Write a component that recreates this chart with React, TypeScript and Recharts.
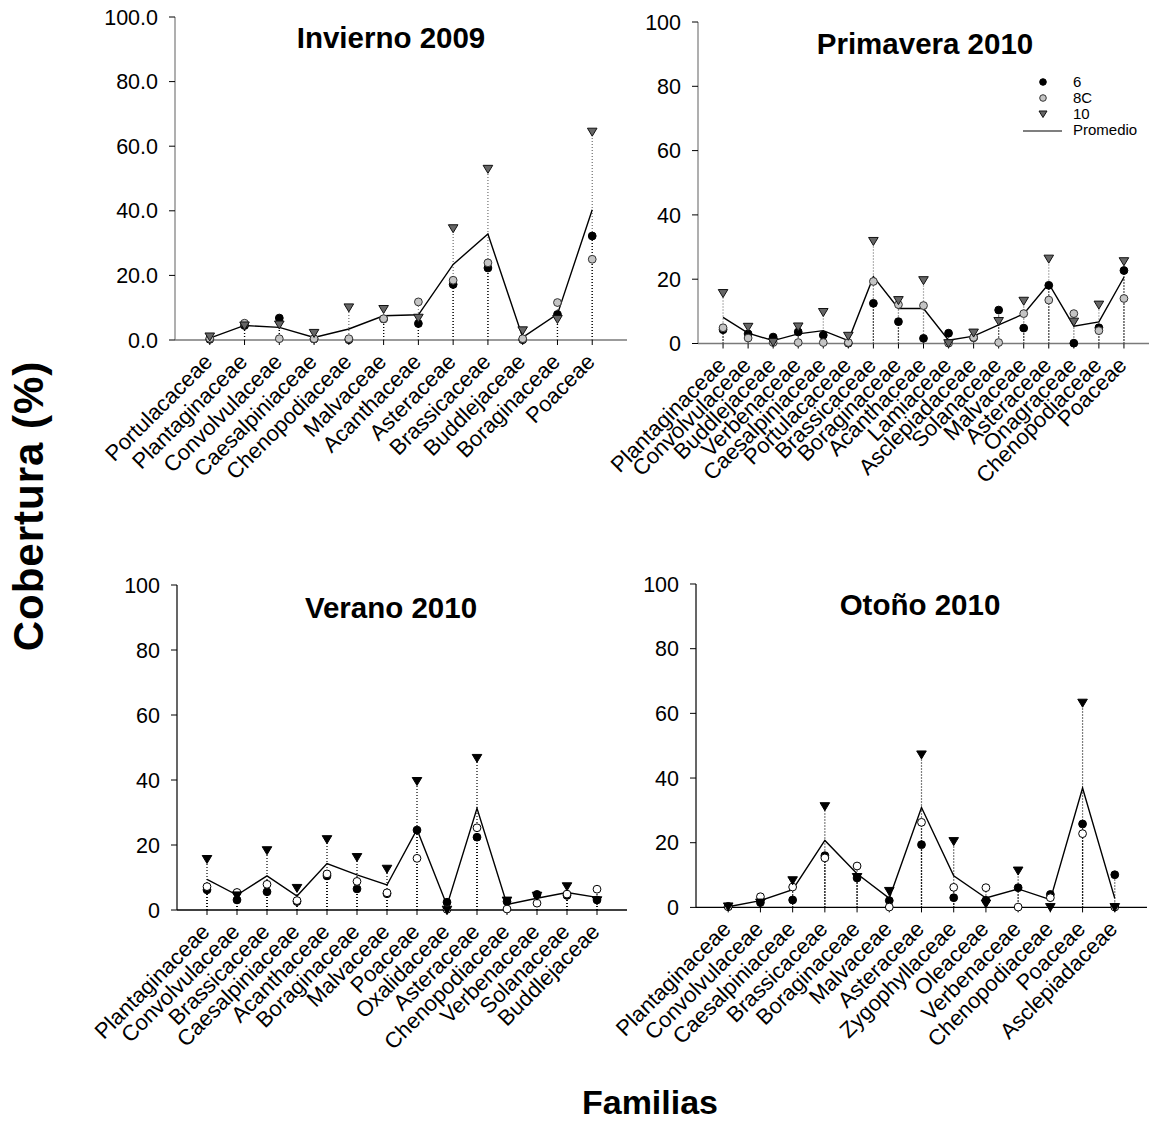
import React from 'react';
import { ComposedChart, Line, Scatter, XAxis, YAxis, ReferenceLine, Legend } from 'recharts';

const FONT = '"Liberation Sans", Arial, Helvetica, sans-serif';

// ---- Invierno 2009 ----
const inviernoFamilias = ['Portulacaceae', 'Plantaginaceae', 'Convolvulaceae', 'Caesalpiniaceae', 'Chenopodiaceae', 'Malvaceae', 'Acanthaceae', 'Asteraceae', 'Brassicaceae', 'Buddlejaceae', 'Boraginaceae', 'Poaceae'];
const invierno6 = [0.2, 4.5, 6.8, 0.3, 0.1, 6.5, 5.1, 17.2, 22.3, 0.1, 7.9, 32.2];
const invierno8C = [0.5, 5.2, 0.4, 0.4, 0.4, 6.6, 11.8, 18.5, 23.9, 0.4, 11.6, 25.0];
const invierno10 = [1.0, 4.4, 4.7, 2.1, 10.0, 9.5, 6.8, 34.5, 52.9, 2.9, 6.4, 64.4];
const inviernoPromedio = [0.6, 4.5, 3.9, 0.8, 3.4, 7.5, 7.8, 23.4, 32.8, 0.8, 8.0, 40.3];

// ---- Primavera 2010 ----
const primaveraFamilias = ['Plantaginaceae', 'Convolvulaceae', 'Buddlejaceae', 'Verbenaceae', 'Caesalpiniaceae', 'Portulacaceae', 'Brassicaceae', 'Boraginaceae', 'Acanthaceae', 'Lamiaceae', 'Asclepiadaceae', 'Solanaceae', 'Malvaceae', 'Asteraceae', 'Onagraceae', 'Chenopodiaceae', 'Poaceae'];
const primavera6 = [4.3, 3.0, 2.0, 3.6, 2.6, 0.1, 12.5, 6.8, 1.6, 3.2, 1.8, 10.4, 4.8, 18.1, 0.1, 4.9, 22.7];
const primavera8C = [4.9, 1.7, 0.3, 0.3, 0.3, 0.3, 19.3, 12.1, 11.8, 0.1, 1.9, 0.3, 9.3, 13.5, 9.3, 4.0, 14.0];
const primavera10 = [15.6, 5.1, 0.4, 5.2, 9.7, 2.3, 31.8, 13.4, 19.6, 0.0, 3.3, 6.9, 13.2, 26.3, 6.7, 12.0, 25.5];
const primaveraPromedio = [8.1, 3.2, 0.9, 3.0, 4.0, 0.9, 20.8, 10.9, 10.9, 1.0, 2.3, 5.8, 9.2, 18.6, 5.4, 6.7, 20.6];

// ---- Verano 2010 ----
const veranoFamilias = ['Plantaginaceae', 'Convolvulaceae', 'Brassicaceae', 'Caesalpiniaceae', 'Acanthaceae', 'Boraginaceae', 'Malvaceae', 'Poaceae', 'Oxalidaceae', 'Asteraceae', 'Chenopodiaceae', 'Verbenaceae', 'Solanaceae', 'Buddlejaceae'];
const verano6 = [6.2, 3.1, 5.6, 2.6, 10.5, 6.5, 5.0, 24.6, 2.4, 22.4, 2.6, 4.8, 4.5, 3.1];
const verano8C = [7.2, 5.4, 7.9, 2.9, 11.1, 8.8, 5.3, 15.9, 0.2, 25.3, 0.3, 2.1, 4.9, 6.4];
const verano10 = [15.6, 4.4, 18.3, 6.7, 21.7, 16.2, 12.6, 39.6, 0.0, 46.7, 2.8, 4.3, 7.2, 2.9];
const veranoPromedio = [9.4, 4.6, 10.5, 4.3, 14.3, 10.8, 7.7, 24.8, 1.4, 31.3, 1.7, 3.6, 5.4, 3.9];

// ---- Otoño 2010 ----
const otonoFamilias = ['Plantaginaceae', 'Convolvulaceae', 'Caesalpiniaceae', 'Brassicaceae', 'Boraginaceae', 'Malvaceae', 'Asteraceae', 'Zygophyllaceae', 'Oleaceae', 'Verbenaceae', 'Chenopodiaceae', 'Poaceae', 'Asclepiadaceae'];
const otono6 = [0.3, 1.5, 2.3, 16.0, 9.1, 2.1, 19.4, 3.0, 2.2, 6.1, 4.0, 25.8, 10.1];
const otono8C = [0.2, 3.3, 6.3, 15.3, 12.8, 0.1, 26.3, 6.2, 6.1, 0.1, 3.0, 22.8, 0.1];
const otono10 = [0.2, 1.4, 8.3, 31.2, 9.3, 5.0, 47.2, 20.4, 1.1, 11.3, 0.0, 63.2, 0.0];
const otonoPromedio = [0.2, 2.1, 5.5, 20.7, 10.4, 2.8, 30.9, 9.8, 2.9, 5.7, 2.4, 36.9, 2.8];

const yTicks = [0, 20, 40, 60, 80, 100];
const seriesLabels = ['6', '8C', '10', 'Promedio'];

type Style = { fill: string; stroke: string };
type Palette = {
  s6: Style; s8: Style; s10: Style;
  drop6: string; drop8: string; drop10: string;
  axis: string; axisWidth: number;
};

const grayPalette: Palette = {
  s6: { fill: '#000000', stroke: '#000000' },
  s8: { fill: '#c4c4c4', stroke: '#333333' },
  s10: { fill: '#666666', stroke: '#111111' },
  drop6: '#000000', drop8: '#8a8a8a', drop10: '#6e6e6e',
  axis: '#7a7a7a', axisWidth: 1.6,
};

const monoPalette: Palette = {
  s6: { fill: '#000000', stroke: '#000000' },
  s8: { fill: '#ffffff', stroke: '#000000' },
  s10: { fill: '#000000', stroke: '#000000' },
  drop6: '#000000', drop8: '#000000', drop10: '#000000',
  axis: '#000000', axisWidth: 1.3,
};

const circleShape = (st: Style, r = 3.9) => (p: any) =>
  p.cx == null || p.cy == null ? <g /> : (
    <circle cx={p.cx} cy={p.cy} r={r} fill={st.fill} stroke={st.stroke} strokeWidth={1} />
  );

const triangleShape = (st: Style) => (p: any) => {
  if (p.cx == null || p.cy == null) return <g />;
  const { cx, cy } = p;
  const pts = `${cx - 4.8},${cy - 3.8} ${cx + 4.8},${cy - 3.8} ${cx},${cy + 4.2}`;
  return <polygon points={pts} fill={st.fill} stroke={st.stroke} strokeWidth={1} strokeLinejoin="round" />;
};

const makeXTick = (cats: string[]) => (props: any) => {
  const { x, y, payload } = props;
  const label = cats[payload.value - 1];
  if (!label) return <g />;
  const ax = x + 4;
  const ay = y + 16;
  return (
    <text x={ax} y={ay} transform={`rotate(-45 ${ax} ${ay})`} textAnchor="end"
      fontFamily={FONT} fontSize={22} fill="#000">{label}</text>
  );
};

const LegendBox = ({ pal }: { pal: Palette }) => {
  const rows = [12, 28, 44, 60];
  const mx = 23;
  const tx = 53;
  return (
    <svg width={140} height={72} style={{ overflow: 'visible' }}>
      <circle cx={mx} cy={rows[0]} r={3.3} fill={pal.s6.fill} stroke={pal.s6.stroke} />
      <circle cx={mx} cy={rows[1]} r={3.3} fill={pal.s8.fill} stroke={pal.s8.stroke} />
      <polygon points={`${mx - 4},${rows[2] - 3} ${mx + 4},${rows[2] - 3} ${mx},${rows[2] + 3.5}`} fill={pal.s10.fill} stroke={pal.s10.stroke} />
      <line x1={3} x2={42} y1={rows[3] + 1} y2={rows[3] + 1} stroke="#000" strokeWidth={1.2} />
      {seriesLabels.map((s, i) => (
        <text key={s} x={tx} y={rows[i]} dy="0.35em" fontFamily={FONT} fontSize={15} fill="#000">{s}</text>
      ))}
    </svg>
  );
};

type PanelProps = {
  cats: string[]; v6: number[]; v8: number[]; v10: number[]; prom: number[];
  plotLeft: number; plotTop: number; plotW: number; plotH: number;
  decimals: number; pal: Palette; legend?: boolean;
};

const Panel = ({ cats, v6, v8, v10, prom, plotLeft, plotTop, plotW, plotH, decimals, pal, legend }: PanelProps) => {
  const rows = cats.map((name, i) => ({ x: i + 1, name, s6: v6[i], s8: v8[i], s10: v10[i], prom: prom[i] }));
  const n = cats.length;
  const ML = 40, YW = 60, MT = 20, MR = 20, XH = 150;
  const width = ML + YW + plotW + MR;
  const height = MT + plotH + XH;
  const chartLeft = plotLeft - ML - YW;
  const chartTop = plotTop - MT;
  const drop = (key: 's6' | 's8' | 's10', color: string) =>
    rows.map((r) => (
      <ReferenceLine key={`${key}-${r.x}`} segment={[{ x: r.x, y: 0 }, { x: r.x, y: r[key] }]}
        stroke={color} strokeWidth={1.2} strokeDasharray="1 2" ifOverflow="visible" />
    ));
  return (
    <div style={{ position: 'absolute', left: chartLeft, top: chartTop }}>
      <ComposedChart width={width} height={height} data={rows}
        margin={{ top: MT, right: MR, bottom: 0, left: ML }} style={{ overflow: 'visible' }}>
        <XAxis dataKey="x" type="number" domain={[0, n + 1]} ticks={rows.map((r) => r.x)}
          interval={0} height={XH} tick={makeXTick(cats)} tickSize={5} tickMargin={2}
          axisLine={{ stroke: pal.axis, strokeWidth: pal.axisWidth }}
          tickLine={{ stroke: '#000', strokeWidth: 1 }} allowDecimals={false} />
        <YAxis type="number" domain={[0, 100]} ticks={yTicks} width={YW} interval={0}
          tickFormatter={(v: number) => v.toFixed(decimals)} tickSize={6} tickMargin={11}
          tick={{ fontSize: 21.5, fill: '#000', fontFamily: FONT }}
          axisLine={{ stroke: pal.axis, strokeWidth: 1.2 }} tickLine={{ stroke: '#000', strokeWidth: 1 }} />
        {drop('s10', pal.drop10)}
        {drop('s8', pal.drop8)}
        {drop('s6', pal.drop6)}
        <Line dataKey="prom" type="linear" stroke="#000" strokeWidth={1.4} dot={false} activeDot={false} isAnimationActive={false} />
        <Scatter dataKey="s6" name="6" shape={circleShape(pal.s6)} isAnimationActive={false} />
        <Scatter dataKey="s8" name="8C" shape={circleShape(pal.s8)} isAnimationActive={false} />
        <Scatter dataKey="s10" name="10" shape={triangleShape(pal.s10)} isAnimationActive={false} />
        {legend && (
          <Legend layout="vertical" align="center" verticalAlign="middle"
            content={() => <LegendBox pal={pal} />}
            wrapperStyle={{ left: 1020 - chartLeft, top: 70 - chartTop, width: 140, height: 72 }} />
        )}
      </ComposedChart>
    </div>
  );
};

export default function App() {
  return (
    <div style={{ position: 'absolute', left: 0, top: 0, width: 1159, height: 1124, background: '#fff', overflow: 'hidden' }}>
      <Panel cats={inviernoFamilias} v6={invierno6} v8={invierno8C} v10={invierno10} prom={inviernoPromedio}
        plotLeft={175} plotTop={17} plotW={452} plotH={323} decimals={1} pal={grayPalette} />
      <Panel cats={primaveraFamilias} v6={primavera6} v8={primavera8C} v10={primavera10} prom={primaveraPromedio}
        plotLeft={698} plotTop={21.5} plotW={451} plotH={321.5} decimals={0} pal={grayPalette} legend />
      <Panel cats={veranoFamilias} v6={verano6} v8={verano8C} v10={verano10} prom={veranoPromedio}
        plotLeft={177} plotTop={585} plotW={450} plotH={325} decimals={0} pal={monoPalette} />
      <Panel cats={otonoFamilias} v6={otono6} v8={otono8C} v10={otono10} prom={otonoPromedio}
        plotLeft={696} plotTop={584.3} plotW={451} plotH={323.4} decimals={0} pal={monoPalette} />
      <svg width={1159} height={1124} style={{ position: 'absolute', left: 0, top: 0, pointerEvents: 'none' }}>
        <g fontFamily={FONT} fontWeight="bold" fill="#000" textAnchor="middle">
          <text x={391} y={48} fontSize={29.5}>Invierno 2009</text>
          <text x={925} y={54} fontSize={29.5}>Primavera 2010</text>
          <text x={391} y={618} fontSize={29.5}>Verano 2010</text>
          <text x={920} y={615} fontSize={29.5}>Otoño 2010</text>
          <text x={43} y={506} fontSize={42} letterSpacing={1} transform="rotate(-90 43 506)">Cobertura (%)</text>
          <text x={650} y={1114} fontSize={34}>Familias</text>
        </g>
      </svg>
    </div>
  );
}
